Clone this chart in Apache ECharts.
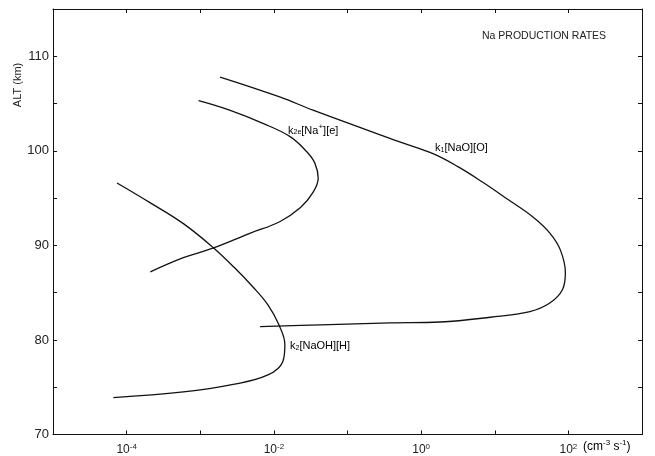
<!DOCTYPE html>
<html>
<head>
<meta charset="utf-8">
<script src="https://cdn.jsdelivr.net/npm/echarts@6/dist/echarts.min.js"></script>
<style>
  html, body { margin: 0; padding: 0; background: #fff; }
  #chart { width: 655px; height: 456px; }
</style>
</head>
<body>
<div id="chart"></div>
<script>
// k1[NaO][O]  (rate cm^-3 s^-1, altitude km)
const k1Rate = [1.86e-3, 1.2e-2, 3.4e-2, 0.49, 1.45, 3.2, 6.8, 14.8, 33, 56, 78, 91, 83, 56, 30, 8.7, 1.8, 0.38, 0.043, 6.5e-3];
const k1Alt = [107.8, 105.7, 104.3, 101.0, 99.7, 98.3, 96.7, 94.9, 93.0, 91.3, 89.5, 87.1, 85.3, 83.9, 83.0, 82.4, 81.9, 81.8, 81.6, 81.4];

// k2e[Na+][e]
const k2eRate = [9.5e-4, 2.5e-3, 7.1e-3, 1.66e-2, 2.8e-2, 3.6e-2, 4.0e-2, 3.4e-2, 2.3e-2, 1.2e-2, 4.8e-3, 1.48e-3, 5.9e-4, 2.1e-4];
const k2eAlt = [105.3, 104.3, 102.9, 101.5, 99.9, 98.7, 97.1, 95.6, 94.0, 92.5, 91.3, 89.7, 88.7, 87.2];

// k2[NaOH][H]
const k2Rate = [7.4e-5, 2.1e-4, 5.9e-4, 1.48e-3, 2.95e-3, 5.2e-3, 8.3e-3, 1.17e-2, 1.41e-2, 1.32e-2, 8.3e-3, 2.8e-3, 5.9e-4, 6.6e-5];
const k2Alt = [96.6, 94.5, 92.3, 89.8, 87.6, 85.6, 83.7, 81.6, 79.5, 77.7, 76.3, 75.3, 74.5, 73.9];

const yTickLabels = [70, 80, 90, 100, 110];
const xLabelExps = [-4, -2, 0, 2];

const FONT = 'Liberation Sans';
const INK = '#222';

function pairs(xs, ys) {
  return xs.map((x, i) => [x, ys[i]]);
}

const chart = echarts.init(document.getElementById('chart'));

const lineStyle = { color: '#111', width: 1.3 };
const axisLine = { show: true, lineStyle: { color: '#111', width: 1 } };
const tick = { show: true, inside: true, length: 4, lineStyle: { color: '#111' } };
const sup = { fontSize: 8, fontFamily: FONT, color: INK, verticalAlign: 'bottom', padding: [0, 0, 7, 0] };
const sub = { fontSize: 7, fontFamily: FONT, color: INK, verticalAlign: 'top', padding: [6, 0, 0, 0] };
const txt = { fontSize: 11, fontFamily: FONT, color: INK };

const option = {
  backgroundColor: '#fff',
  animation: false,
  title: {
    text: 'Na PRODUCTION RATES',
    left: 477,
    top: 26,
    textStyle: { fontSize: 10.5, fontWeight: 'normal', fontFamily: FONT, color: INK }
  },
  grid: { left: 53, right: 13, top: 9, bottom: 21 },
  xAxis: [
    {
      type: 'log',
      logBase: 10,
      min: 1e-5,
      max: 1e3,
      interval: 1,
      splitNumber: 8,
      axisLine: axisLine,
      axisTick: tick,
      splitLine: { show: false },
      axisLabel: {
        margin: 8,
        formatter: function (v) {
          const e = Math.round(Math.log10(v));
          if (xLabelExps.indexOf(e) < 0) return '';
          return '{b|10}{s|' + e + '}';
        },
        rich: { b: { fontSize: 12, fontFamily: FONT, color: INK }, s: sup }
      }
    },
    {
      type: 'log',
      logBase: 10,
      position: 'top',
      min: 1e-5,
      max: 1e3,
      interval: 1,
      splitNumber: 8,
      axisLine: axisLine,
      axisTick: tick,
      axisLabel: { show: false },
      splitLine: { show: false }
    }
  ],
  yAxis: [
    {
      type: 'value',
      min: 70,
      max: 115,
      interval: 5,
      axisLine: axisLine,
      axisTick: tick,
      splitLine: { show: false },
      axisLabel: {
        margin: 4,
        fontSize: 13,
        fontFamily: FONT,
        color: INK,
        formatter: function (v) {
          return yTickLabels.indexOf(v) >= 0 ? String(v) : '';
        }
      }
    },
    {
      type: 'value',
      position: 'right',
      min: 70,
      max: 115,
      interval: 5,
      axisLine: axisLine,
      axisTick: tick,
      axisLabel: { show: false },
      splitLine: { show: false }
    }
  ],
  series: [
    { name: 'k1', type: 'line', smooth: 0.4, showSymbol: false, lineStyle: lineStyle, data: pairs(k1Rate, k1Alt) },
    { name: 'k2e', type: 'line', smooth: 0.4, showSymbol: false, lineStyle: lineStyle, data: pairs(k2eRate, k2eAlt) },
    { name: 'k2', type: 'line', smooth: 0.4, showSymbol: false, lineStyle: lineStyle, data: pairs(k2Rate, k2Alt) }
  ],
  graphic: [
    {
      type: 'text',
      x: 18,
      y: 85,
      rotation: Math.PI / 2,
      style: { text: 'ALT (km)', fontSize: 11, fontFamily: FONT, fill: INK, align: 'center', verticalAlign: 'middle' }
    },
    {
      type: 'text',
      left: 583,
      top: 439,
      style: {
        text: '{t|(cm}{s|-3}{t| s}{s|-1}{t|)}',
        rich: { t: { fontSize: 12, fontFamily: FONT, color: INK }, s: sup }
      }
    },
    {
      type: 'text',
      left: 288,
      top: 123,
      style: {
        text: '{t|k}{d|2e}{t|[Na}{s|+}{t|][e]}',
        rich: { t: txt, d: sub, s: sup }
      }
    },
    {
      type: 'text',
      left: 435,
      top: 142,
      style: {
        text: '{t|k}{d|1}{t|[NaO][O]}',
        rich: { t: txt, d: sub }
      }
    },
    {
      type: 'text',
      left: 290,
      top: 340,
      style: {
        text: '{t|k}{d|2}{t|[NaOH][H]}',
        rich: { t: txt, d: sub }
      }
    }
  ]
};

chart.setOption(option);
</script>
</body>
</html>
